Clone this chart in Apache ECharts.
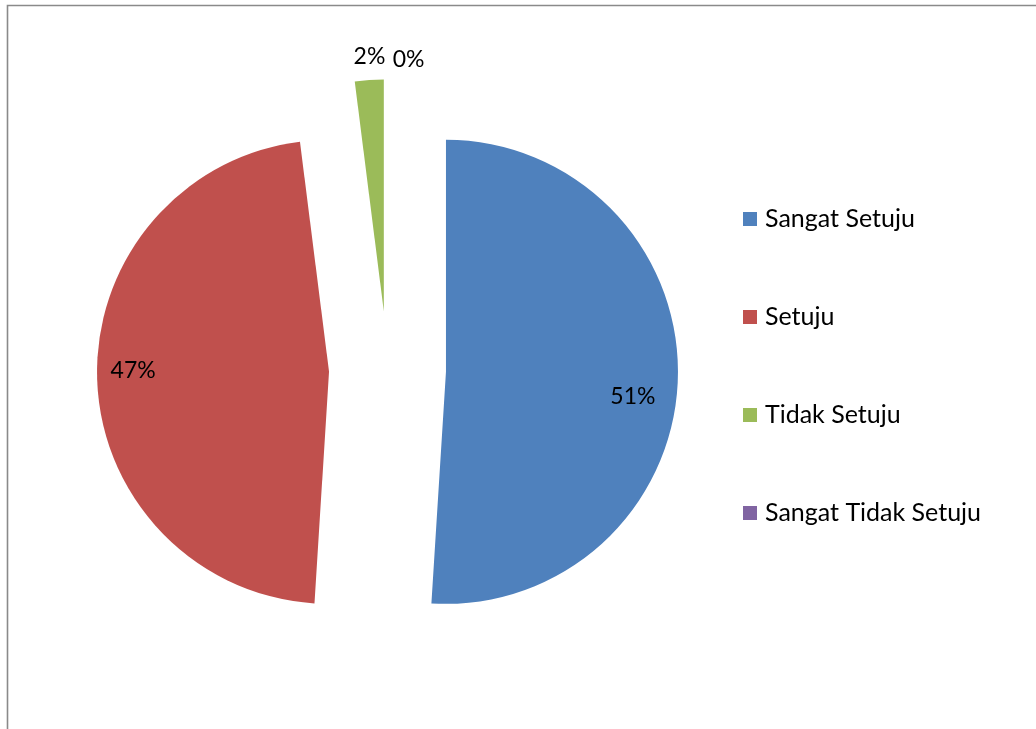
<!DOCTYPE html>
<html>
<head>
<meta charset="utf-8">
<script src="https://cdn.jsdelivr.net/npm/echarts@6/dist/echarts.min.js"></script>
<style>
  html, body { margin: 0; padding: 0; background: #ffffff; }
  #chart { width: 1036px; height: 729px; }
</style>
</head>
<body>
<div id="chart"></div>
<script>
// Survey answers and their shares (percent)
const categories = ['Sangat Setuju', 'Setuju', 'Tidak Setuju', 'Sangat Tidak Setuju'];
const percentValues = [51, 47, 2, 0];

// Office-style palette
const sliceColors = ['#4F81BD', '#C0504D', '#9BBB59', '#8064A2'];
const FONT = 'Lato, "Open Sans", sans-serif';

// Geometry of the exploded pie
const PIE_CENTER = [387.5, 370];
const PIE_RADIUS = 232;
const EXPLODE = 58.5;

// Fine nudges for the labels (pixels)
const innerShift = [{ dx: -11, dy: 19 }, { dx: 2, dy: -7 }, null, null];
const outerShift = [null, null, { dx: 22, dy: -10 }, { dx: 42, dy: -6 }];

const pctLabel = p => Math.round(p.percent) + '%';

const chart = echarts.init(document.getElementById('chart'), null, { renderer: 'canvas' });

const option = {
  animation: false,
  color: sliceColors,
  legend: {
    orient: 'vertical',
    left: 738,
    top: 201,
    icon: 'rect',
    itemWidth: 14,
    itemHeight: 14,
    itemGap: 72,
    selectedMode: false,
    textStyle: { fontFamily: FONT, fontSize: 25, color: '#000', lineHeight: 26, padding: [0, 0, 0, 3] },
    data: categories
  },
  graphic: [{
    type: 'polyline',
    silent: true,
    shape: { points: [[7.5, 729], [7.5, 5.5], [1036, 5.5]] },
    style: { stroke: '#8a8a8a', lineWidth: 1.6, fill: null }
  }],
  series: [
    {
      // visible slices, small-slice labels outside
      type: 'pie',
      center: PIE_CENTER,
      radius: PIE_RADIUS,
      startAngle: 90,
      clockwise: true,
      selectedMode: 'multiple',
      selectedOffset: EXPLODE,
      avoidLabelOverlap: false,
      emphasis: { disabled: true },
      select: { itemStyle: { borderWidth: 0 }, label: { color: '#000' } },
      itemStyle: { borderWidth: 0 },
      label: {
        position: 'outside',
        formatter: pctLabel,
        fontFamily: FONT,
        fontSize: 23,
        color: '#000'
      },
      labelLine: { show: false, length: 14, length2: 0 },
      labelLayout: p => outerShift[p.dataIndex] || {},
      data: categories.map((name, i) => ({
        name,
        value: percentValues[i],
        selected: true,
        label: { show: i >= 2 }
      }))
    },
    {
      // transparent companion pie that places the large-slice labels near the rim
      type: 'pie',
      center: PIE_CENTER,
      radius: [0, 390],
      startAngle: 90,
      clockwise: true,
      silent: true,
      selectedMode: 'multiple',
      selectedOffset: EXPLODE,
      avoidLabelOverlap: false,
      emphasis: { disabled: true },
      itemStyle: { color: 'rgba(0,0,0,0)', borderWidth: 0 },
      select: { itemStyle: { color: 'rgba(0,0,0,0)', borderWidth: 0 }, label: { color: '#000' } },
      label: {
        position: 'inside',
        formatter: pctLabel,
        fontFamily: FONT,
        fontSize: 23,
        color: '#000'
      },
      labelLine: { show: false },
      labelLayout: p => innerShift[p.dataIndex] || {},
      data: categories.map((name, i) => ({
        name,
        value: percentValues[i],
        selected: true,
        label: { show: i < 2 }
      }))
    }
  ]
};

chart.setOption(option);
</script>
</body>
</html>
